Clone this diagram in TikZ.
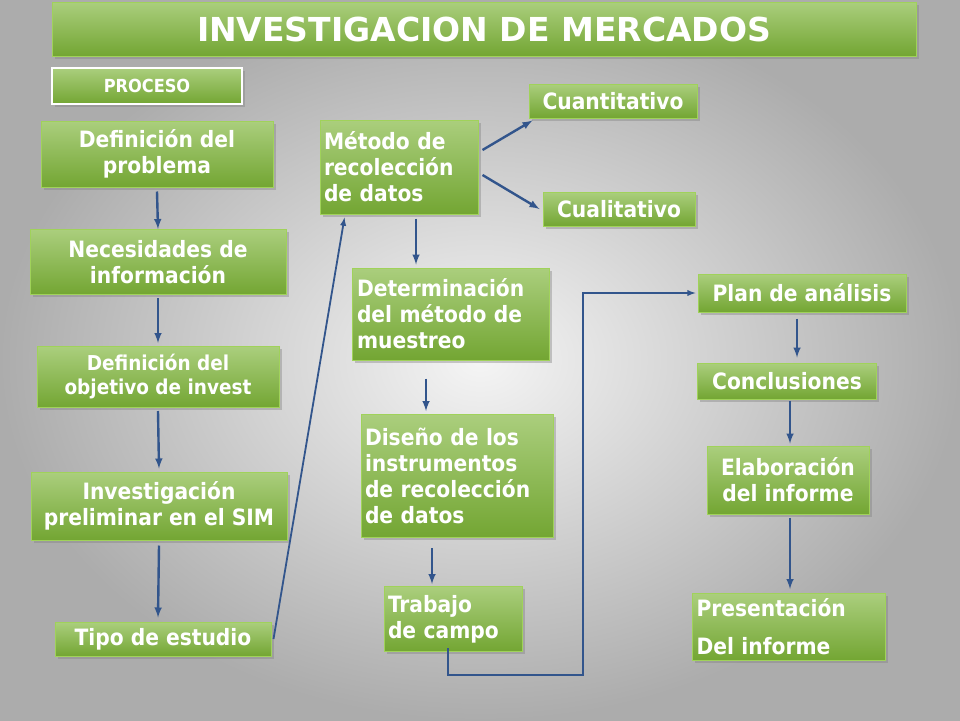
\documentclass[tikz,border=0pt]{standalone}
\usepackage{fontspec}
\setmainfont{DejaVu Sans Condensed}
\usetikzlibrary{positioning,shadows}
\definecolor{boxgreen}{RGB}{125,180,55}
\definecolor{boxedge}{RGB}{160,210,90}
\definecolor{arrowblue}{RGB}{50,85,140}
\tikzset{
  box/.style={draw=boxedge, line width=1pt, top color=boxgreen!65!white, bottom color=boxgreen!92!black,
    text=white, font=\bfseries\fontsize{22.5}{26}\selectfont, align=center, inner sep=2pt,
    drop shadow={opacity=0.4}},
  flow/.style={-latex, draw=arrowblue, line width=2.4pt}
}
\begin{document}
\begin{tikzpicture}[x=1pt,y=-1pt]
% background
\shade[inner color=gray!8, outer color=gray!65] (0,0) rectangle (960,720);
\useasboundingbox (0,0) rectangle (960,720);

% title and heading
\node[box, minimum width=864pt, minimum height=54pt, font=\bfseries\fontsize{33}{38}\selectfont\fontspec{DejaVu Sans}] (title) at (484,29) {INVESTIGACION DE MERCADOS};
\node[box, draw=white, line width=2.5pt, minimum width=190pt, minimum height=36pt, font=\bfseries\fontsize{18}{21}\selectfont] (proceso) at (147,86) {PROCESO};

% left column
\node[box, minimum width=232pt, minimum height=66pt] (defprob) at (157,154) {Definición del\\problema};
\node[box, minimum width=256pt, minimum height=65pt] (necesid) at (158,262) {Necesidades de\\información};
\node[box, minimum width=242pt, minimum height=61pt, font=\bfseries\fontsize{20.5}{24}\selectfont] (objetivo) at (158,377) {Definición del\\objetivo de invest};
\node[box, minimum width=256pt, minimum height=68pt] (prelim) at (159,506) {Investigación\\preliminar en el SIM};
\node[box, minimum width=216pt, minimum height=34pt] (tipo) at (163,639) {Tipo de estudio};

% middle column
\node[box, minimum width=158pt, minimum height=94pt, align=left, text width=150pt] (metodo) at (399,167) {Método de\\recolección\\de datos};
\node[box, minimum width=168pt, minimum height=34pt] (cuanti) at (613,101) {Cuantitativo};
\node[box, minimum width=152pt, minimum height=34pt] (cuali) at (619,209) {Cualitativo};
\node[box, minimum width=197pt, minimum height=92pt, align=left, text width=188pt] (muestreo) at (451,314) {Determinación\\del método de\\muestreo};
\node[box, minimum width=192pt, minimum height=123pt, align=left, text width=184pt] (diseno) at (457,476) {Diseño de los\\instrumentos\\de recolección\\de datos};
\node[box, minimum width=138pt, minimum height=65pt, align=left, text width=130pt] (campo) at (453,619) {Trabajo\\de campo};

% right column
\node[box, minimum width=208pt, minimum height=38pt] (plan) at (802,293) {Plan de análisis};
\node[box, minimum width=179pt, minimum height=36pt] (concl) at (787,381) {Conclusiones};
\node[box, minimum width=162pt, minimum height=68pt] (elab) at (788,480) {Elaboración\\del informe};
\node[box, minimum width=193pt, minimum height=67pt, align=left, text width=185pt, font=\bfseries\fontsize{22.5}{38}\selectfont] (present) at (789,627) {Presentación\\Del informe};

% connectors
\draw[flow] ([yshift=-4pt]defprob.south) -- (necesid.north);
\draw[flow] ([yshift=-3pt]necesid.south) -- ([yshift=3pt]objetivo.north);
\draw[flow] ([yshift=-3pt]objetivo.south) -- ([yshift=3pt]prelim.north);
\draw[flow] ([yshift=-5pt]prelim.south) -- ([xshift=-5pt,yshift=4pt]tipo.north);
\draw[flow, line width=1.8pt] ([xshift=2pt]tipo.east) -- ([xshift=25pt,yshift=-3pt]metodo.south west);
\draw[flow] ([xshift=4pt,yshift=17pt]metodo.east) -- ([xshift=4pt,yshift=-2pt]cuanti.south west);
\draw[flow] ([xshift=4pt,yshift=-8pt]metodo.east) -- ([xshift=-3pt]cuali.west);
\draw[flow] ([xshift=17pt,yshift=-4pt]metodo.south) -- ([xshift=-35pt,yshift=3pt]muestreo.north);
\draw[flow] ([xshift=-25pt,yshift=-18pt]muestreo.south) -- ([xshift=-31pt,yshift=3pt]diseno.north);
\draw[flow] ([xshift=-25pt,yshift=-10pt]diseno.south) -- ([xshift=-21pt,yshift=2pt]campo.north);
\draw[flow, line width=1.8pt] ([xshift=-5pt,yshift=4pt]campo.south) |- (583,675) |- ([xshift=-2pt]plan.west);
\draw[flow] ([xshift=-5pt,yshift=-6pt]plan.south) -- ([xshift=10pt,yshift=5pt]concl.north);
\draw[flow] ([xshift=3pt,yshift=-1pt]concl.south) -- ([xshift=2pt,yshift=2pt]elab.north);
\draw[flow] ([xshift=2pt,yshift=-3pt]elab.south) -- ([xshift=1pt,yshift=4pt]present.north);
\end{tikzpicture}
\end{document}
